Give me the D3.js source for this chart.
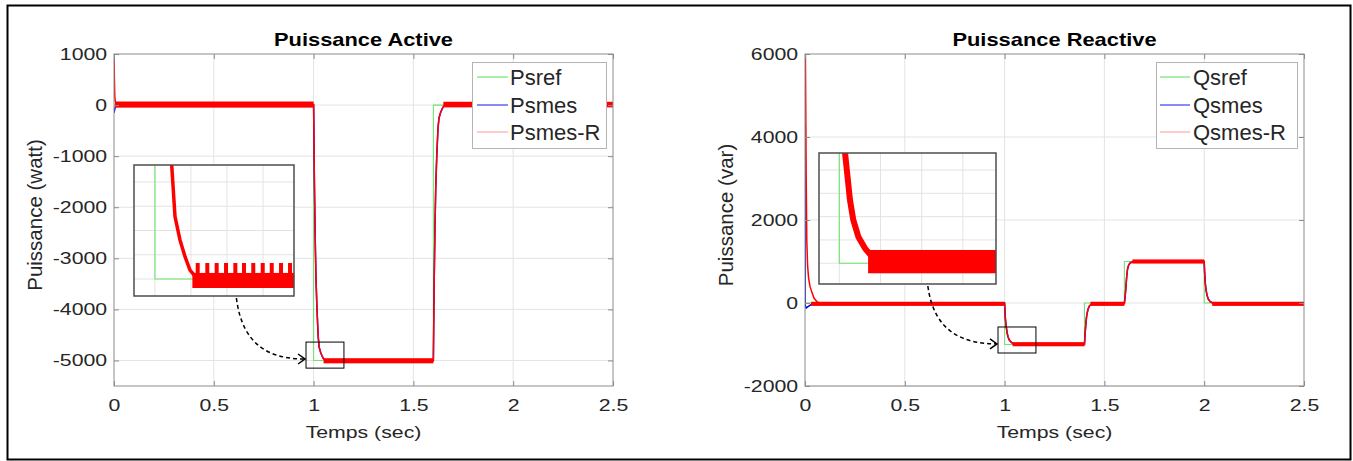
<!DOCTYPE html>
<html>
<head>
<meta charset="utf-8">
<script src="https://cdn.jsdelivr.net/npm/d3@7"></script>
<style>
html, body { margin: 0; padding: 0; background: #fff; }
svg { display: block; }
text { font-family: "Liberation Sans", Arial, sans-serif; fill: #262626; }
</style>
</head>
<body>
<svg id="fig" width="1353" height="461"></svg>
<script>
// ---- data ----
var timeTicks = [0, 0.5, 1, 1.5, 2, 2.5];
var pTicks = [1000, 0, -1000, -2000, -3000, -4000, -5000];
var qTicks = [6000, 4000, 2000, 0, -2000];

// Puissance active
var psref = [[0, 0], [1, 0], [1, -5000], [1.6, -5000], [1.6, 0], [2.5, 0]];
var psmes = [[0, -150], [0.006, -40], [0.02, 0], [1, 0], [1.004, -1500], [1.008, -2600], [1.012, -3400],
  [1.017, -4000], [1.023, -4530], [1.028, -4743], [1.035, -4839], [1.042, -4908], [1.049, -4963],
  [1.058, -4996], [1.07, -5000], [1.6, -5000], [1.604, -3500], [1.608, -2400], [1.612, -1600],
  [1.617, -1000], [1.623, -470], [1.628, -257], [1.635, -161], [1.642, -92], [1.649, -37],
  [1.658, -4], [1.67, 0], [2.5, 0]];
var psmesR = [[0, 1000], [0.002, 500], [0.004, 150], [0.008, 40], [0.015, 10], [1, 10], [1.004, -1500],
  [1.008, -2600], [1.012, -3400], [1.017, -4000], [1.023, -4530], [1.028, -4743], [1.035, -4839],
  [1.042, -4908], [1.049, -4963], [1.058, -4996], [1.07, -5006], [1.6, -5006], [1.604, -3500],
  [1.608, -2400], [1.612, -1600], [1.617, -1000], [1.623, -470], [1.628, -257], [1.635, -161],
  [1.642, -92], [1.649, -37], [1.658, -4], [1.67, 10], [2.5, 10]];
// ripple band: [t start, t end, level, half width]
var psRipple = [[0.005, 1, 10, 60], [1.05, 1.6, -5006, 50], [1.65, 2.5, 10, 55]];

// Puissance reactive
var qsref = [[0, 0], [1, 0], [1, -1000], [1.4, -1000], [1.4, 0], [1.6, 0], [1.6, 1000], [2, 1000], [2, 0], [2.5, 0]];
var qsmes = [[0, 4300], [0.0005, 2500], [0.001, -60], [0.006, -120], [0.015, -90], [0.03, -40], [0.05, -10],
  [0.07, 0], [1, 0], [1.002, -200], [1.004, -380], [1.007, -527], [1.013, -729], [1.017, -814],
  [1.023, -886], [1.031, -936], [1.041, -977], [1.055, -1000], [1.4, -1000], [1.404, -700],
  [1.408, -450], [1.412, -280], [1.418, -150], [1.425, -70], [1.435, -30], [1.45, 0], [1.6, 0],
  [1.604, 150], [1.608, 400], [1.612, 650], [1.616, 820], [1.622, 920], [1.63, 970], [1.645, 995],
  [1.66, 1000], [2, 1000], [2.002, 750], [2.005, 500], [2.009, 320], [2.014, 190], [2.02, 100],
  [2.03, 30], [2.045, 0], [2.5, 0]];
var qsmesR = [[0.002, 6000], [0.004, 4500], [0.006, 3000], [0.009, 1500], [0.013, 900], [0.018, 600],
  [0.025, 400], [0.035, 250], [0.045, 120], [0.06, 30], [0.08, -20], [1, -20], [1.002, -200],
  [1.004, -380], [1.007, -527], [1.013, -729], [1.017, -814], [1.023, -886], [1.031, -936],
  [1.041, -977], [1.055, -993], [1.4, -993], [1.404, -700], [1.408, -450], [1.412, -280],
  [1.418, -150], [1.425, -70], [1.435, -30], [1.45, -20], [1.6, -20], [1.604, 150], [1.608, 400],
  [1.612, 650], [1.616, 820], [1.622, 920], [1.63, 970], [1.645, 995], [1.66, 1000], [2, 1000],
  [2.002, 750], [2.005, 500], [2.009, 320], [2.014, 190], [2.02, 100], [2.03, 30], [2.045, -10],
  [2.06, -20], [2.5, -20]];
var qsRipple = [[0.03, 1, -20, 50], [1.04, 1.4, -993, 50], [1.43, 1.6, -20, 50], [1.64, 2, 1000, 50], [2.04, 2.5, -20, 50]];

// zoomed views
var psZoomT = [0.971, 1.193], psZoomV = [-5070, -4530];
var psZoomGridT = [1, 1.05, 1.1, 1.15], psZoomGridV = [-5000, -4900, -4800, -4700, -4600];
var psZoomCurve = [[1.018, -4300], [1.0233, -4530], [1.0279, -4743], [1.0348, -4839], [1.0418, -4908],
  [1.0487, -4963], [1.058, -4996], [1.07, -5006], [1.193, -5006]];
var psZoomRipple = [[1.052, 1.193, -5006, 31]];
var psZoomSpikes = [1.0594, 1.0727, 1.0857, 1.0987, 1.1116, 1.1236, 1.1365, 1.1496, 1.1621, 1.175, 1.1875];
var psZoomSpikeTop = -4934;

var qsZoomT = [0.9754, 1.1902], qsZoomV = [-1089, -527];
var qsZoomGridT = [1, 1.05, 1.1, 1.15], qsZoomGridV = [-1000, -900, -800, -700, -600];
var qsZoomCurve = [[1.005, -440], [1.007, -527], [1.013, -729], [1.017, -814], [1.0231, -886],
  [1.0312, -936], [1.041, -977], [1.055, -993], [1.1902, -993]];
var qsZoomRipple = [[1.035, 1.1902, -993, 50]];

// ---- drawing ----
var svg = d3.select("#fig");
var stretch = 1.25,
  boxColor = "#8c8c8c",
  gridColor = "#e3e3e3",
  refColor = "#6fe46f",
  mesColor = "#0000ff",
  redColor = "#ff0000";

function hText(parent, x, y, str, size, anchor, bold, sx) {
  return parent.append("text")
    .attr("transform", "translate(" + x + "," + y + ") scale(" + (sx || stretch) + ",1)")
    .attr("text-anchor", anchor || "middle")
    .style("font-size", size + "px")
    .style("font-weight", bold ? "bold" : "normal")
    .text(str);
}

function styleAxis(sel, labels) {
  sel.attr("font-size", null).attr("font-family", null);
  sel.select(".domain").remove();
  sel.selectAll(".tick line").attr("stroke", boxColor);
  if (!labels) sel.selectAll(".tick text").remove();
  else sel.selectAll(".tick text")
    .attr("fill", "#262626")
    .style("font-size", "17px")
    .attr("transform", "scale(" + stretch + ",1)");
}

function drawRipple(g, data, x, y) {
  g.selectAll(null).data(data).enter().append("rect")
    .attr("x", function(d) { return x(d[0]); })
    .attr("y", function(d) { return y(d[2] + d[3]); })
    .attr("width", function(d) { return x(d[1]) - x(d[0]); })
    .attr("height", function(d) { return y(d[2] - d[3]) - y(d[2] + d[3]); })
    .attr("fill", redColor);
}

var panels = [
  { id: "p", left: 114, right: 613, top: 54, bottom: 386, yDomain: [-5500, 1000], yTicks: pTicks,
    title: "Puissance Active", ylabel: "Puissance (watt)", labelX: 42,
    ref: psref, mes: psmes, mesR: psmesR, ripple: psRipple,
    names: ["Psref", "Psmes", "Psmes-R"],
    legend: { x: 472, y: 62, w: 134, h: 86, line: [5, 36], text: 38 },
    inset: { x: 134, y: 165, w: 160, h: 131, t: psZoomT, v: psZoomV, gridT: psZoomGridT, gridV: psZoomGridV,
      curve: psZoomCurve, ripple: psZoomRipple, spikes: psZoomSpikes, spikeTop: psZoomSpikeTop, width: 3.5 },
    box: { t: [0.962, 1.152], v: [-5150, -4640] }, arrowFrom: 0.64 },
  { id: "q", left: 805, right: 1304, top: 54, bottom: 386, yDomain: [-2000, 6000], yTicks: qTicks,
    title: "Puissance Reactive", ylabel: "Puissance (var)", labelX: 733,
    ref: qsref, mes: qsmes, mesR: qsmesR, ripple: qsRipple,
    names: ["Qsref", "Qsmes", "Qsmes-R"],
    legend: { x: 1156, y: 62, w: 141, h: 86, line: [4, 34], text: 37 },
    inset: { x: 819, y: 153, w: 177, h: 131, t: qsZoomT, v: qsZoomV, gridT: qsZoomGridT, gridV: qsZoomGridV,
      curve: qsZoomCurve, ripple: qsZoomRipple, spikes: [], spikeTop: 0, width: 6 },
    box: { t: [0.967, 1.157], v: [-1205, -578] }, arrowFrom: 0.615 }
];

panels.forEach(function(p) {
  var g = svg.append("g");
  var x = d3.scaleLinear().domain([0, 2.5]).range([p.left, p.right]);
  var y = d3.scaleLinear().domain(p.yDomain).range([p.bottom, p.top]);
  var w = p.right - p.left, h = p.bottom - p.top;

  g.append("clipPath").attr("id", "clip-" + p.id)
    .append("rect").attr("x", p.left).attr("y", p.top).attr("width", w).attr("height", h);

  // grid
  g.selectAll(null).data(timeTicks.slice(1, -1)).enter().append("line")
    .attr("x1", x).attr("x2", x).attr("y1", p.top).attr("y2", p.bottom)
    .attr("stroke", gridColor);
  g.selectAll(null).data(p.yTicks.filter(function(d) { return d !== p.yDomain[1]; })).enter().append("line")
    .attr("y1", y).attr("y2", y).attr("x1", p.left).attr("x2", p.right)
    .attr("stroke", gridColor);

  // series
  var plot = g.append("g").attr("clip-path", "url(#clip-" + p.id + ")");
  var line = d3.line().x(function(d) { return x(d[0]); }).y(function(d) { return y(d[1]); });
  plot.append("path").attr("d", line(p.ref)).attr("fill", "none").attr("stroke", refColor).attr("stroke-width", 1.1);
  plot.append("path").attr("d", line(p.mes)).attr("fill", "none").attr("stroke", mesColor).attr("stroke-width", 1.5);
  plot.append("path").attr("d", line(p.mesR)).attr("fill", "none").attr("stroke", redColor).attr("stroke-width", 1.5);
  drawRipple(plot, p.ripple, x, y);

  // box and ticks
  g.append("rect").attr("x", p.left).attr("y", p.top).attr("width", w).attr("height", h)
    .attr("fill", "none").attr("stroke", boxColor);
  g.append("g").attr("transform", "translate(0," + p.bottom + ")")
    .call(d3.axisBottom(x).tickValues(timeTicks).tickFormat(function(d) { return String(d); })
      .tickSizeInner(-5).tickSizeOuter(0).tickPadding(13))
    .call(styleAxis, true);
  g.append("g").attr("transform", "translate(0," + p.top + ")")
    .call(d3.axisTop(x).tickValues(timeTicks).tickSizeInner(-5).tickSizeOuter(0))
    .call(styleAxis, false);
  g.append("g").attr("transform", "translate(" + p.left + ",0)")
    .call(d3.axisLeft(y).tickValues(p.yTicks).tickFormat(function(d) { return String(d); })
      .tickSizeInner(-5).tickSizeOuter(0).tickPadding(5.5))
    .call(styleAxis, true);
  g.append("g").attr("transform", "translate(" + p.right + ",0)")
    .call(d3.axisRight(y).tickValues(p.yTicks).tickSizeInner(-5).tickSizeOuter(0))
    .call(styleAxis, false);

  // texts
  hText(g, (p.left + p.right) / 2, 46, p.title, 17.5, "middle", true).style("fill", "#000");
  hText(g, (p.left + p.right) / 2, 438, "Temps (sec)", 17, "middle");
  g.append("text")
    .attr("transform", "translate(" + p.labelX + "," + (p.top + h / 2 - 5) + ") rotate(-90)")
    .attr("text-anchor", "middle").style("font-size", "20.5px")
    .text(p.ylabel);

  // legend
  var L = p.legend, colors = [refColor, "#3b3bf0", "#ffa8a8"], rows = [15, 43, 70];
  var lg = g.append("g").attr("transform", "translate(" + L.x + "," + L.y + ")");
  lg.append("rect").attr("x", 0.5).attr("y", 0.5).attr("width", L.w).attr("height", L.h)
    .attr("fill", "#fff").attr("stroke", "#b4b4b4");
  p.names.forEach(function(n, i) {
    lg.append("line").attr("x1", L.line[0]).attr("x2", L.line[1]).attr("y1", rows[i]).attr("y2", rows[i])
      .attr("stroke", colors[i]).attr("stroke-width", 1.2);
    hText(lg, L.text, rows[i] + 8, n, 22, "start", false, 1);
  });

  // zoom box in the main axes
  var bx = x(p.box.t[0]), by = y(p.box.v[1]), bw = x(p.box.t[1]) - bx, bh = y(p.box.v[0]) - by;
  g.append("rect").attr("x", bx).attr("y", by).attr("width", bw).attr("height", bh)
    .attr("fill", "none").attr("stroke", "#000").attr("stroke-width", 1);

  // inset
  var I = p.inset;
  var xi = d3.scaleLinear().domain(I.t).range([I.x, I.x + I.w]);
  var yi = d3.scaleLinear().domain(I.v).range([I.y + I.h, I.y]);
  var ig = g.append("g");
  ig.append("clipPath").attr("id", "clip-i" + p.id)
    .append("rect").attr("x", I.x).attr("y", I.y).attr("width", I.w).attr("height", I.h);
  ig.append("rect").attr("x", I.x).attr("y", I.y).attr("width", I.w).attr("height", I.h).attr("fill", "#fff");
  ig.selectAll(null).data(I.gridT).enter().append("line")
    .attr("x1", xi).attr("x2", xi).attr("y1", I.y).attr("y2", I.y + I.h).attr("stroke", gridColor);
  ig.selectAll(null).data(I.gridV).enter().append("line")
    .attr("y1", yi).attr("y2", yi).attr("x1", I.x).attr("x2", I.x + I.w).attr("stroke", gridColor);
  var ip = ig.append("g").attr("clip-path", "url(#clip-i" + p.id + ")");
  var iline = d3.line().x(function(d) { return xi(d[0]); }).y(function(d) { return yi(d[1]); });
  ip.append("path").attr("d", iline(p.ref)).attr("fill", "none").attr("stroke", refColor).attr("stroke-width", 1.1);
  ip.append("path").attr("d", iline(I.curve)).attr("fill", "none").attr("stroke", redColor)
    .attr("stroke-width", I.width).attr("stroke-linejoin", "round");
  drawRipple(ip, I.ripple, xi, yi);
  var band = I.ripple[0];
  ip.selectAll(null).data(I.spikes).enter().append("rect")
    .attr("x", function(d) { return xi(d) - 2; })
    .attr("y", yi(I.spikeTop))
    .attr("width", 4)
    .attr("height", yi(band[2] + band[3]) - yi(I.spikeTop) + 1)
    .attr("fill", redColor);
  ig.append("rect").attr("x", I.x).attr("y", I.y).attr("width", I.w).attr("height", I.h)
    .attr("fill", "none").attr("stroke", "#4d4d4d").attr("stroke-width", 1.5);

  // dashed arrow from the inset to the zoom box
  var sx = I.x + p.arrowFrom * I.w, sy = I.y + I.h + 2;
  var ex = bx - 1, ey = by + bh * 0.65;
  g.append("path")
    .attr("d", "M" + sx + "," + sy + " C" + (sx + 6) + "," + (ey - 12) + " " + (sx + 35) + "," + ey + " " + ex + "," + ey)
    .attr("fill", "none").attr("stroke", "#000").attr("stroke-width", 1.5).attr("stroke-dasharray", "4,3");
  g.append("path")
    .attr("d", "M" + (ex - 7) + "," + (ey - 5) + " L" + ex + "," + ey + " L" + (ex - 7) + "," + (ey + 5))
    .attr("fill", "none").attr("stroke", "#000").attr("stroke-width", 1.5);
});

// outer frame
svg.append("rect").attr("x", 7.5).attr("y", 5.5).attr("width", 1343).attr("height", 454)
  .attr("fill", "none").attr("stroke", "#000").attr("stroke-width", 2);
</script>
</body>
</html>
